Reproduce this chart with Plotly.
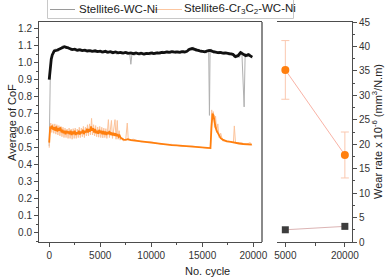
import plotly.graph_objects as go

# ---------------- data ----------------
# Stellite6-WC-Ni CoF (smoothed, dark) 
BK_X = [0, 100, 200, 300, 400, 500, 750, 1000, 1250, 1500, 1750, 2000, 2250, 2500, 2750, 3000, 3250, 3500,
        3750, 4000, 4250, 4500, 4750, 5000, 5250, 5500, 5750, 6000, 6250, 6500, 6750, 7000, 7250, 7500,
        7750, 8000, 8250, 8500, 8750, 9000, 9250, 9500, 9750, 10000, 10250, 10500, 10750, 11000, 11250,
        11500, 11750, 12000, 12250, 12500, 12750, 13000, 13250, 13500, 13750, 14000, 14250, 14500, 14750,
        15000, 15250, 15500, 15750, 16000, 16250, 16500, 16750, 17000, 17250, 17500, 17750, 18000, 18250,
        18500, 18750, 19000, 19250, 19500, 19750, 19900]
BK_Y = [0.90, 0.97, 1.02, 1.045, 1.06, 1.068, 1.072, 1.078, 1.085, 1.093, 1.088, 1.082, 1.076, 1.079, 1.072,
        1.075, 1.070, 1.073, 1.068, 1.070, 1.066, 1.069, 1.064, 1.067, 1.062, 1.066, 1.060, 1.064, 1.058,
        1.062, 1.057, 1.060, 1.056, 1.059, 1.054, 1.057, 1.052, 1.056, 1.051, 1.055, 1.050, 1.054, 1.052,
        1.056, 1.053, 1.057, 1.055, 1.060, 1.058, 1.062, 1.060, 1.064, 1.061, 1.063, 1.060, 1.064, 1.062,
        1.066, 1.078, 1.082, 1.076, 1.073, 1.069, 1.066, 1.063, 1.068, 1.071, 1.066, 1.062, 1.058, 1.060,
        1.055, 1.057, 1.053, 1.050, 1.048, 1.035, 1.040, 1.058, 1.050, 1.040, 1.047, 1.038, 1.032]

# Stellite6-WC-Ni CoF (raw, light)
GR_X = [0, 50, 125, 375, 625, 875, 1125, 1375, 1625, 1875, 2125, 2375, 2625, 2875, 3125, 3375, 3625, 3875,
        4125, 4375, 4625, 4875, 5125, 5375, 5625, 5875, 6125, 6375, 6625, 6875, 7125, 7375, 7625, 7875,
        8000, 8125, 8375, 8625, 8875, 9125, 9375, 9625, 9875, 10125, 10375, 10625, 10875, 11125, 11375,
        11625, 11875, 12125, 12375, 12625, 12875, 13125, 13375, 13625, 13875, 14125, 14375, 14625, 14875,
        15125, 15375, 15625, 15700, 15760, 15875, 16125, 16375, 16625, 16875, 17125, 17375, 17625, 17875,
        18125, 18375, 18625, 18875, 19100, 19200, 19375, 19625, 19875]
GR_Y = [0.51, 0.85, 0.99, 1.07, 1.08, 1.065, 1.09, 1.10, 1.08, 1.095, 1.07, 1.085, 1.065, 1.082, 1.062, 1.080,
        1.060, 1.077, 1.058, 1.075, 1.056, 1.073, 1.054, 1.072, 1.052, 1.069, 1.050, 1.068, 1.048, 1.066,
        1.047, 1.065, 1.045, 1.060, 0.99, 1.058, 1.042, 1.062, 1.041, 1.061, 1.040, 1.062, 1.043, 1.065,
        1.044, 1.066, 1.047, 1.069, 1.050, 1.071, 1.052, 1.072, 1.053, 1.071, 1.052, 1.073, 1.055, 1.085,
        1.07, 1.092, 1.064, 1.080, 1.057, 1.072, 1.055, 1.078, 0.69, 1.06, 1.080, 1.052, 1.068, 1.049,
        1.066, 1.046, 1.063, 1.042, 1.058, 1.030, 1.048, 1.030, 1.065, 0.74, 1.055, 1.032, 1.055, 1.025]

# Stellite6-Cr3C2-WC-Ni CoF (smoothed, orange)
OR_X = [0, 50, 100, 200, 300, 400, 500, 600, 700, 800, 900, 1000, 1100, 1200, 1300, 1400, 1500, 1600, 1700,
        1800, 1900, 2000, 2100, 2200, 2300, 2400, 2500, 2600, 2700, 2800, 2900, 3000, 3100, 3200, 3300,
        3400, 3500, 3600, 3700, 3800, 3900, 4000, 4100, 4200, 4300, 4400, 4500, 4600, 4700, 4800, 4900,
        5000, 5100, 5200, 5300, 5400, 5500, 5600, 5700, 5800, 5900, 6000, 6100, 6200, 6300, 6400, 6500,
        6600, 6700, 6800, 6900, 7000, 7100, 7200, 7300, 7500, 7700, 8000, 8500, 9000, 9500, 10000, 10500,
        11000, 11500, 12000, 12500, 13000, 13500, 14000, 14500, 15000, 15500, 15800, 15900, 16000, 16100,
        16200, 16300, 16400, 16600, 16800, 17000, 17400, 17800, 18000, 18300, 18600, 19000, 19500, 19850]
OR_Y = [0.53, 0.60, 0.625, 0.61, 0.63, 0.605, 0.62, 0.60, 0.625, 0.595, 0.615, 0.60, 0.62, 0.59, 0.605,
        0.585, 0.60, 0.58, 0.60, 0.585, 0.595, 0.58, 0.60, 0.575, 0.595, 0.58, 0.60, 0.575, 0.59, 0.58, 0.60,
        0.578, 0.595, 0.585, 0.605, 0.58, 0.60, 0.59, 0.612, 0.59, 0.61, 0.595, 0.625, 0.60, 0.615, 0.59,
        0.61, 0.585, 0.60, 0.582, 0.605, 0.585, 0.60, 0.58, 0.598, 0.578, 0.595, 0.575, 0.592, 0.58, 0.598,
        0.575, 0.59, 0.572, 0.588, 0.57, 0.585, 0.568, 0.58, 0.565, 0.572, 0.558, 0.555, 0.550, 0.548,
        0.546, 0.550, 0.545, 0.541, 0.538, 0.535, 0.531, 0.528, 0.524, 0.520, 0.516, 0.514, 0.511, 0.509,
        0.507, 0.505, 0.503, 0.500, 0.498, 0.62, 0.70, 0.69, 0.65, 0.62, 0.60, 0.575, 0.556, 0.548, 0.538,
        0.535, 0.532, 0.528, 0.525, 0.522, 0.520, 0.518]

# Stellite6-Cr3C2-WC-Ni CoF (raw, light)
OL_X = [0, 30, 150, 250, 350, 450, 550, 650, 750, 850, 950, 1050, 1150, 1250, 1350, 1450, 1550, 1650, 1750,
        1850, 1950, 2050, 2150, 2250, 2350, 2450, 2550, 2650, 2750, 2850, 2950, 3050, 3150, 3250, 3350,
        3450, 3550, 3650, 3750, 3850, 3950, 4050, 4150, 4250, 4350, 4450, 4550, 4650, 4750, 4850, 4950,
        5050, 5150, 5250, 5350, 5450, 5550, 5650, 5800, 5900, 6000, 6100, 6200, 6300, 6450, 6550, 6670,
        6750, 6850, 6950, 7100, 7250, 7500, 7650, 7750, 8250, 9000, 10000, 11000, 12000, 13000, 14000,
        15000, 15800, 15850, 15920, 16000, 16080, 16200, 16300, 16420, 16520, 16650, 16800, 17000, 17500,
        18050, 18140, 18250, 18700, 19300, 19700, 19850]
OL_Y = [0.50, 0.58, 0.645, 0.59, 0.64, 0.585, 0.64, 0.58, 0.635, 0.575, 0.63, 0.57, 0.625, 0.565, 0.62, 0.56,
        0.615, 0.56, 0.61, 0.555, 0.615, 0.555, 0.61, 0.55, 0.612, 0.555, 0.615, 0.555, 0.61, 0.56, 0.62,
        0.56, 0.615, 0.565, 0.625, 0.56, 0.62, 0.57, 0.635, 0.57, 0.64, 0.575, 0.672, 0.575, 0.635, 0.57,
        0.63, 0.565, 0.622, 0.562, 0.625, 0.56, 0.62, 0.558, 0.615, 0.56, 0.612, 0.555, 0.665, 0.56, 0.61,
        0.66, 0.555, 0.61, 0.665, 0.55, 0.66, 0.55, 0.60, 0.545, 0.56, 0.54, 0.55, 0.645, 0.545, 0.55, 0.535,
        0.535, 0.52, 0.52, 0.508, 0.51, 0.50, 0.495, 0.60, 0.722, 0.68, 0.712, 0.62, 0.685, 0.59, 0.64, 0.56,
        0.585, 0.54, 0.54, 0.53, 0.628, 0.53, 0.53, 0.52, 0.53, 0.515]

# Wear rate panel
WR_CYCLES = [5000, 20000]
WR_WCNI = [2.5, 3.2]
WR_CR = [35.2, 17.8]
WR_CR_ERR = [6.0, 4.7]

NAME_A = "Stellite6-WC-Ni"
NAME_B = "Stellite6-Cr<sub>3</sub>C<sub>2</sub>-WC-Ni"

# ---------------- figure ----------------
FONT = "Liberation Sans, Arial, sans-serif"
AX = "#4d4d4d"
W, H = 386, 279
ML, MR, MT, MB = 39, 34, 22, 37
PW, PH = W - ML - MR, H - MT - MB


def px(x):
    return (x - ML) / PW


def py(y):
    return (H - MB - y) / PH


fig = go.Figure()

fig.add_trace(go.Scatter(x=GR_X, y=GR_Y, mode="lines", line=dict(color="#b0b0b0", width=1),
                         showlegend=False, xaxis="x", yaxis="y"))
fig.add_trace(go.Scatter(x=BK_X, y=BK_Y, mode="lines", line=dict(color="#111111", width=2.8),
                         showlegend=False, xaxis="x", yaxis="y"))
fig.add_trace(go.Scatter(x=OL_X, y=OL_Y, mode="lines", line=dict(color="#fcc39a", width=1),
                         showlegend=False, xaxis="x", yaxis="y"))
fig.add_trace(go.Scatter(x=OR_X, y=OR_Y, mode="lines", line=dict(color="#ff7f0e", width=1.8),
                         showlegend=False, xaxis="x", yaxis="y"))

# right panel
fig.add_trace(go.Scatter(x=WR_CYCLES, y=WR_WCNI, mode="lines+markers",
                         line=dict(color="#dcb4b4", width=1),
                         marker=dict(symbol="square", size=7, color="#3d3d3d"),
                         showlegend=False, xaxis="x2", yaxis="y2"))
fig.add_trace(go.Scatter(x=WR_CYCLES, y=WR_CR, mode="lines+markers",
                         line=dict(color="#f9b3a6", width=1),
                         marker=dict(symbol="circle", size=8, color="#ff7f0e"),
                         error_y=dict(type="data", array=WR_CR_ERR, color="#fac8b0", thickness=1, width=4),
                         showlegend=False, xaxis="x2", yaxis="y2"))

tickfont = dict(family=FONT, size=10, color="#333")
lab = dict(family=FONT, size=11, color="#222")
legfont = dict(family=FONT, size=11.5, color="#222")

shapes = [
    dict(type="line", xref="x domain", yref="y domain", x0=1, x1=1, y0=0, y1=1,
         line=dict(color="#8a8a8a", width=2)),
    # legend box
    dict(type="rect", xref="paper", yref="paper", x0=px(47.5), x1=px(293.5), y0=py(18.5), y1=py(-1),
         line=dict(color="#c8c8c8", width=1), fillcolor="white", layer="above"),
    dict(type="line", xref="paper", yref="paper", x0=px(50), x1=px(75), y0=py(9.5), y1=py(9.5),
         line=dict(color="#9a9a9a", width=1), layer="above"),
    dict(type="line", xref="paper", yref="paper", x0=px(154), x1=px(182), y0=py(9.5), y1=py(9.5),
         line=dict(color="#fcc6a0", width=1), layer="above"),
]

annotations = [
    dict(text=NAME_A, xref="paper", yref="paper", x=px(77), y=py(9), xanchor="left", yanchor="middle",
         showarrow=False, font=legfont),
    dict(text=NAME_B, xref="paper", yref="paper", x=px(182), y=py(9), xanchor="left", yanchor="middle",
         showarrow=False, font=legfont),
    dict(text="Average of CoF", xref="paper", yref="paper", x=px(12), y=py(123), textangle=-90,
         xanchor="center", yanchor="middle", showarrow=False, font=lab),
    dict(text="No. cycle", xref="paper", yref="paper", x=px(207), y=py(271), xanchor="center",
         yanchor="middle", showarrow=False, font=lab),
    dict(text="Wear rate x 10<sup>-6</sup> (mm<sup>3</sup>/N.m)", xref="paper", yref="paper",
         x=px(377), y=py(132), textangle=-90, xanchor="center", yanchor="middle", showarrow=False,
         font=lab),
]

fig.update_layout(
    width=W, height=H, autosize=False,
    margin=dict(l=ML, r=MR, t=MT, b=MB, pad=0, autoexpand=False),
    paper_bgcolor="white", plot_bgcolor="white",
    font=dict(family=FONT, size=11, color="#222"),
    showlegend=False,
    xaxis=dict(domain=[0, px(262)], range=[-1000, 20850], showgrid=False, zeroline=False,
               showline=True, linecolor=AX, linewidth=1, mirror=True,
               ticks="outside", ticklen=4, tickcolor=AX, tickvals=[0, 5000, 10000, 15000, 20000],
               ticktext=["0", "5000", "10000", "15000", "20000"], tickfont=tickfont,
               minor=dict(ticks="outside", ticklen=2, tickcolor=AX, dtick=2500, tick0=0)),
    yaxis=dict(domain=[0, 1], range=[-0.053, 1.238], showgrid=False, zeroline=False,
               showline=True, linecolor=AX, linewidth=1,
               ticks="outside", ticklen=4, tickcolor=AX, dtick=0.1, tick0=0, tickformat=".1f",
               tickfont=tickfont,
               minor=dict(ticks="outside", ticklen=2, tickcolor=AX, dtick=0.05, tick0=0)),
    xaxis2=dict(domain=[px(277), 1], range=[2900, 21800], showgrid=False, zeroline=False,
                showline=True, linecolor=AX, linewidth=1, mirror=True, anchor="y2",
                ticks="outside", ticklen=4, tickcolor=AX, tickvals=[5000, 20000],
                ticktext=["5000", "20000"], tickfont=tickfont,
                minor=dict(ticks="outside", ticklen=3, tickcolor=AX, tickvals=[12500])),
    yaxis2=dict(domain=[0, 1], range=[0, 45], showgrid=False, zeroline=False, anchor="x2", side="right",
                showline=True, linecolor=AX, linewidth=1,
                ticks="outside", ticklen=4, tickcolor=AX, dtick=5, tick0=0, tickfont=tickfont,
                minor=dict(ticks="outside", ticklen=2, tickcolor=AX, dtick=2.5, tick0=0)),
    shapes=shapes,
    annotations=annotations,
)

fig.write_html("out.html", config={"displayModeBar": False, "staticPlot": True},
               post_script="document.body.style.margin='0px';document.body.style.overflow='hidden';")
